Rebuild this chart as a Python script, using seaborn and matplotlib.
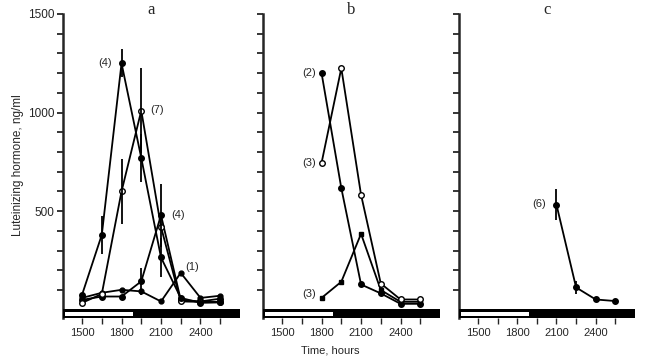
import matplotlib
matplotlib.use("Agg")
import matplotlib.pyplot as plt
import seaborn as sns
import numpy as np
import pandas as pd
from matplotlib.patches import Rectangle

# sampling times (hours)
times = [1500, 1650, 1800, 1950, 2100, 2250, 2400, 2550]

# panel a
a_big4 = [76, 380, 1250, 770, 265, 60, 35, 37]
a_big4_err = [0, 95, 70, 120, 100, 0, 0, 0]
a_7 = [35, 80, 600, 1010, 420, 42, 40, 40]
a_7_err = [0, 0, 165, 215, 0, 0, 0, 0]
a_4 = [50, 67, 67, 144, 480, 50, 42, 56]
a_4_err = [0, 0, 0, 70, 160, 0, 0, 0]
a_1 = [60, 86, 101, 93, 42, 187, 60, 71]

# panel b
b_times = [1800, 1950, 2100, 2250, 2400, 2550]
b_2 = [1200, 617, 128, 83, 30, 30]
b_3open = [745, 1225, 583, 133, 52, 52]
b_3low = [60, 142, 385, 100, 40, 40]

# panel c
c_times = [2100, 2250, 2400, 2550]
c_6 = [533, 113, 52, 44]
c_6_err = [80, 35, 0, 0]

lights_off = 1888
xlim = (1355, 2700)
ylim = (-42, 1500)

sns.set_style("ticks")
plt.rcParams['font.family'] = ['Liberation Sans', 'DejaVu Sans']

fig = plt.figure(figsize=(6.48, 3.58), dpi=100)
ax_a = fig.add_axes([0.0972, 0.1117, 0.2731, 0.8492])
ax_b = fig.add_axes([0.4059, 0.1117, 0.2731, 0.8492])
ax_c = fig.add_axes([0.7083, 0.1117, 0.2716, 0.8492])


def draw_line(ax, x, y, marker='o', open_marker=False, ms=4):
    df = pd.DataFrame({'t': x, 'v': y})
    sns.lineplot(data=df, x='t', y='v', ax=ax, color='black', lw=1.3,
                 marker=marker, markersize=ms,
                 markerfacecolor='white' if open_marker else 'black',
                 markeredgecolor='black', markeredgewidth=1.0)


def draw_err(ax, x, y, err):
    ax.errorbar(x, y, yerr=err, fmt='none', ecolor='black', elinewidth=1.3,
                capsize=0)


def style_axis(ax, title, show_labels):
    ax.set_xlim(*xlim)
    ax.set_ylim(*ylim)
    ax.set_xlabel('')
    ax.set_ylabel('')
    # light/dark bar
    ax.add_patch(Rectangle((xlim[0], -42), xlim[1] - xlim[0], 47,
                           facecolor='black', edgecolor='none', zorder=5,
                           clip_on=False))
    ax.add_patch(Rectangle((1370, -33), lights_off - 1370, 23,
                           facecolor='white', edgecolor='none', zorder=6,
                           clip_on=False))
    for s in ['top', 'right', 'bottom']:
        ax.spines[s].set_visible(False)
    ax.spines['left'].set_linewidth(1.8)
    ax.spines['left'].set_bounds(-42, 1500)
    ax.set_yticks(np.arange(100, 1501, 100))
    if show_labels:
        ax.set_yticklabels([str(v) if v % 500 == 0 else '' for v in range(100, 1501, 100)])
    else:
        ax.set_yticklabels([])
    ax.set_xticks(np.arange(1500, 2551, 150))
    ax.set_xticklabels([str(v) if v in (1500, 1800, 2100, 2400) else '' for v in range(1500, 2551, 150)])
    ax.tick_params(axis='y', direction='out', length=4, width=1.3, labelsize=8.5, pad=2)
    ax.tick_params(axis='x', direction='out', length=4, width=1.0, labelsize=8, pad=3)
    ax.text(0.5, 1.0, title, transform=ax.transAxes, fontsize=12,
            family='Liberation Serif', ha='center', va='baseline')


# panel a
draw_line(ax_a, times, a_1, ms=3.5)
draw_line(ax_a, times, a_4)
draw_line(ax_a, times, a_7, open_marker=True)
draw_line(ax_a, times, a_big4)
draw_err(ax_a, times, a_big4, a_big4_err)
draw_err(ax_a, times, a_7, a_7_err)
draw_err(ax_a, times, a_4, a_4_err)
style_axis(ax_a, 'a', True)
ax_a.text(1675, 1252, '(4)', fontsize=8, ha='center', va='center')
ax_a.text(2070, 1014, '(7)', fontsize=8, ha='center', va='center')
ax_a.text(2230, 482, '(4)', fontsize=8, ha='center', va='center')
ax_a.text(2337, 218, '(1)', fontsize=8, ha='center', va='center')

# panel b
draw_line(ax_b, b_times, b_3low, marker='s', ms=3.5)
draw_line(ax_b, b_times, b_2)
draw_line(ax_b, b_times, b_3open, open_marker=True)
style_axis(ax_b, 'b', False)
ax_b.text(1705, 1202, '(2)', fontsize=8, ha='center', va='center')
ax_b.text(1705, 745, '(3)', fontsize=8, ha='center', va='center')
ax_b.text(1705, 81, '(3)', fontsize=8, ha='center', va='center')

# panel c
draw_line(ax_c, c_times, c_6)
draw_err(ax_c, c_times, c_6, c_6_err)
style_axis(ax_c, 'c', False)
ax_c.text(1964, 537, '(6)', fontsize=8, ha='center', va='center')

fig.text(0.028, 0.539, 'Luteinizing hormone, ng/ml', rotation=90, fontsize=8.5,
         ha='center', va='center')
fig.text(0.509, 0.022, 'Time, hours', fontsize=8, ha='center', va='center')

fig.savefig('out.png', dpi=100)
